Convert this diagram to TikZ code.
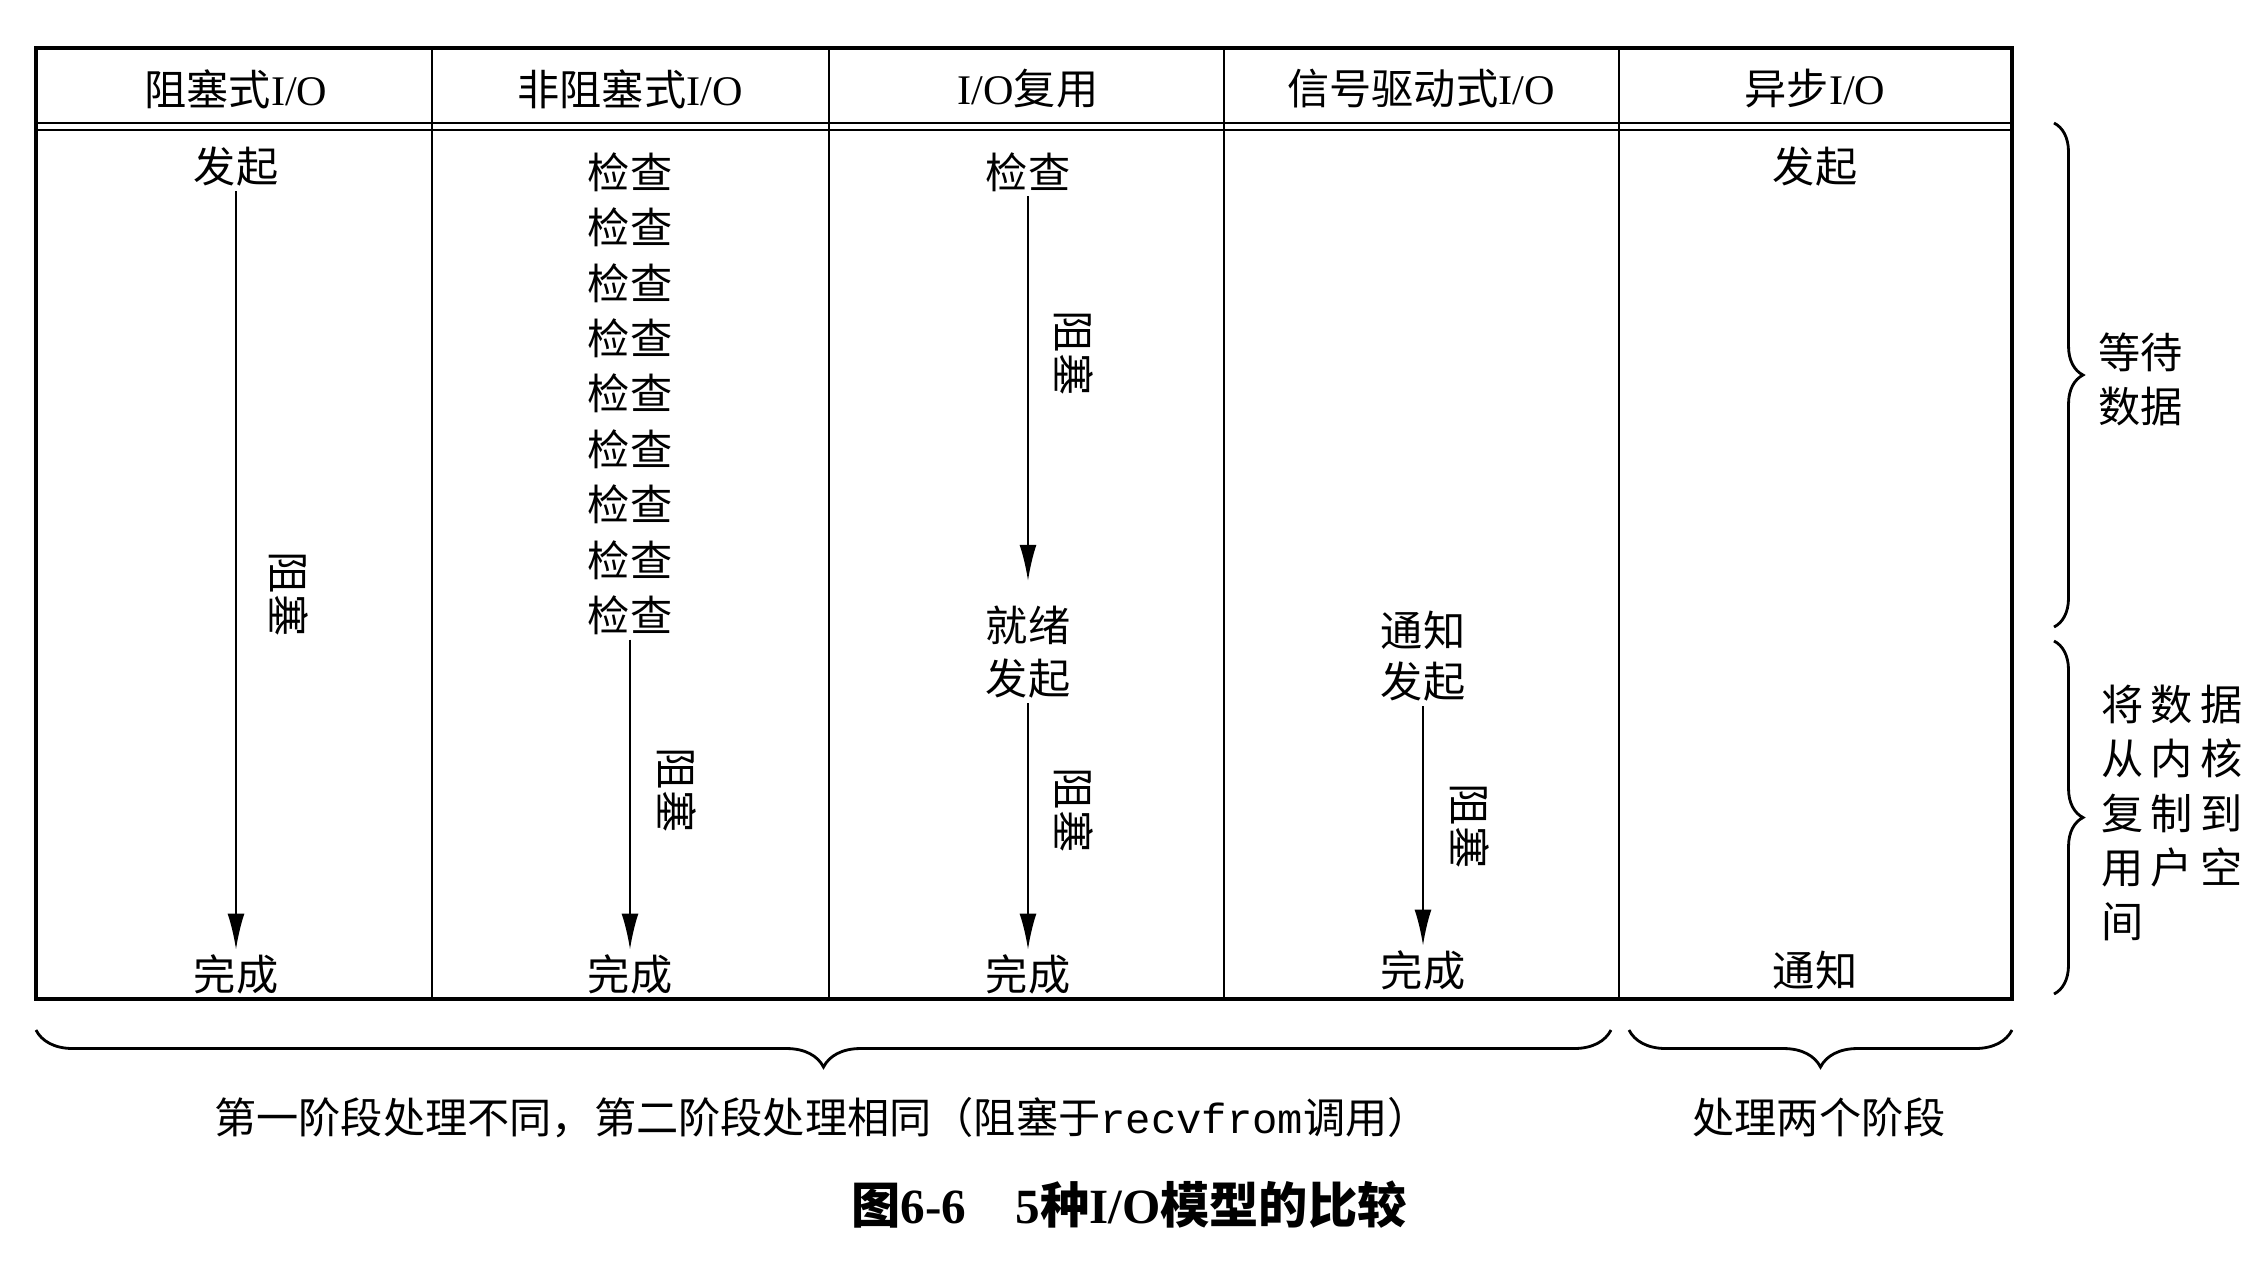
\documentclass[tikz,border=0pt]{standalone}
\usepackage{fontspec}
\setmainfont{Liberation Serif}
\setmonofont{Liberation Mono}
\newfontfamily\cjk{Noto Sans CJK SC}
\usetikzlibrary{arrows.meta,decorations.pathreplacing}

\begin{document}
\begin{tikzpicture}[x=0.01cm, y=-0.01cm, line width=0.7pt,
  txt/.style={font=\cjk\fontsize{12}{15.4}\selectfont, inner sep=1pt},
  blk/.style={-{Latex[length=3.6mm,width=1.7mm]}, line width=0.6pt},
  brc/.style={decorate, decoration={brace, amplitude=#1}, line width=0.8pt}]
\useasboundingbox (0,0) rectangle (2260,1262);
% table
\draw[line width=1pt] (36,48) rectangle (2012,999);
\draw (36,123) -- (2012,123);
\draw (36,130) -- (2012,130);
\foreach \x in {432, 829, 1224, 1619}
  \draw (\x,48) -- (\x,999);
% headers
\node[txt] (h1) at (236,89) {阻塞式{\rmfamily I/O}};
\node[txt] (h2) at (630,89) {非阻塞式{\rmfamily I/O}};
\node[txt] (h3) at (1028,89) {{\rmfamily I/O}复用};
\node[txt] (h4) at (1421,89) {信号驱动式{\rmfamily I/O}};
\node[txt] (h5) at (1815,89) {异步{\rmfamily I/O}};
% blocking
\node[txt] (s1) at (236,167) {发起};
\node[txt] (d1) at (236,974) {完成};
\draw[blk] (s1) -- (d1);
\node[txt, rotate=-90] (k1) at (289,594) {阻塞};
% nonblocking
\foreach \i in {1,...,9}
  \node[txt] (c\i) at (630, {172+55.4*(\i-1)}) {检查};
\node[txt] (d2) at (630,974) {完成};
\draw[blk] (c9) -- (d2);
\node[txt, rotate=-90] (k2) at (677,790) {阻塞};
% multiplexing
\node[txt] (c31) at (1028,172) {检查};
\node[txt] (r3) at (1028,625) {就绪};
\node[txt] (s3) at (1028,679) {发起};
\node[txt] (d3) at (1028,974) {完成};
\draw[blk, shorten >=2mm] (c31) -- (r3);
\draw[blk] (s3) -- (d3);
\node[txt, rotate=-90] (k31) at (1074,353) {阻塞};
\node[txt, rotate=-90] (k32) at (1074,810) {阻塞};
% signal driven
\node[txt] (n4) at (1423,630) {通知};
\node[txt] (s4) at (1423,682) {发起};
\node[txt] (d4) at (1423,970) {完成};
\draw[blk] (s4) -- (d4);
\node[txt, rotate=-90] (k4) at (1470,826) {阻塞};
% async
\node[txt] (s5) at (1815,167) {发起};
\node[txt] (n5) at (1815,970) {通知};
% braces
\coordinate (w1) at (2054,123);
\coordinate (w2) at (2054,627);
\coordinate (w3) at (2054,641);
\coordinate (w4) at (2054,994);
\draw[brc=0.29cm] (w1) -- (w2);
\draw[brc=0.29cm] (w3) -- (w4);
\node[txt, anchor=west, align=left] (wl) at (2094,379) {等待\\数据};
\node[txt, anchor=west, align=left] (cl) at (2097,813)
  {将\kern2pt数\kern2pt据\\从\kern2pt内\kern2pt核\\复\kern2pt制\kern2pt到\\用\kern2pt户\kern2pt空\\间};
\coordinate (b1) at (1611,1030);
\coordinate (b2) at (36,1030);
\coordinate (b3) at (2012,1030);
\coordinate (b4) at (1629,1030);
\draw[brc=0.37cm] (b1) -- (b2);
\draw[brc=0.37cm] (b3) -- (b4);
\node[txt] (p1) at (822,1118) {第一阶段处理不同，第二阶段处理相同（阻塞于{\ttfamily recvfrom}调用）};
\node[txt] (p2) at (1819,1117) {处理两个阶段};
\node[txt, font=\cjk\bfseries\fontsize{14}{17}\selectfont] (cap) at (1129,1205)
  {图{\rmfamily\bfseries 6-6}\quad{\rmfamily\bfseries 5}种{\rmfamily\bfseries I/O}模型的比较};
\end{tikzpicture}
\end{document}
